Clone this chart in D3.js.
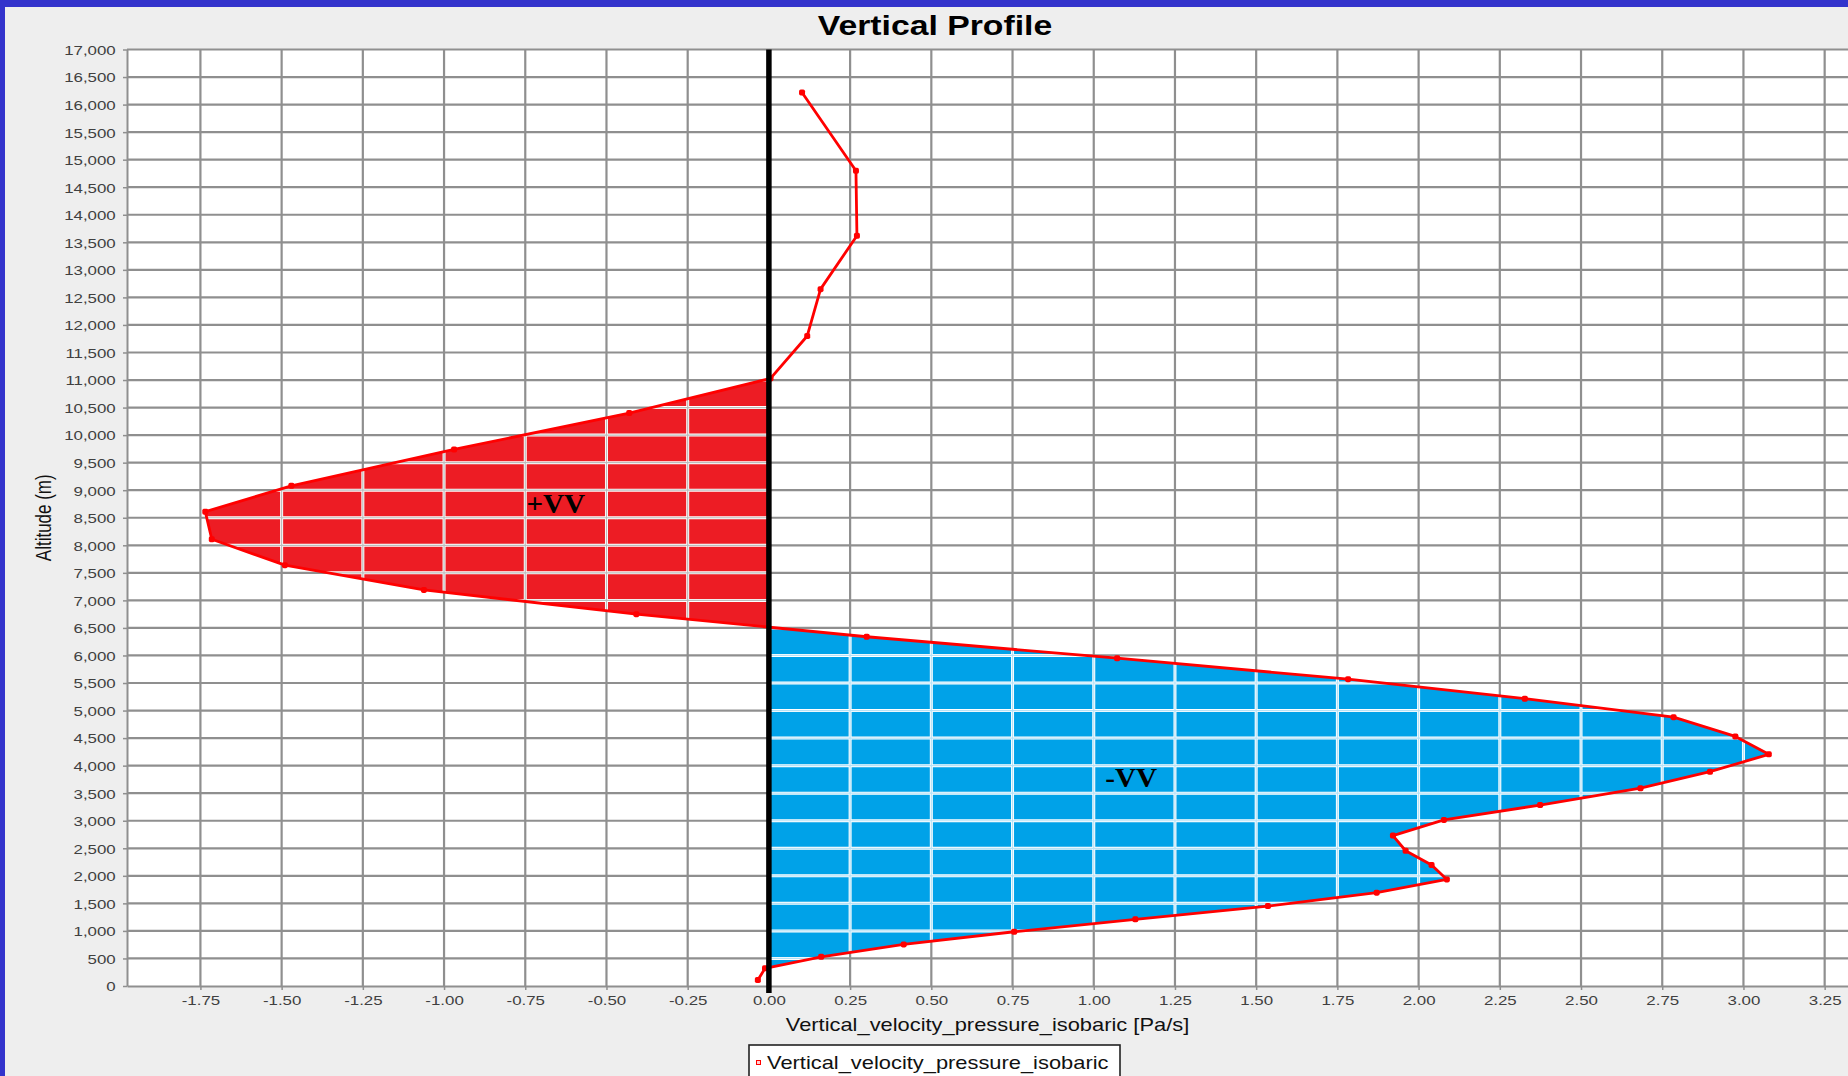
<!DOCTYPE html>
<html>
<head>
<meta charset="utf-8">
<script src="https://cdn.jsdelivr.net/npm/d3@7"></script>
<style>
  html, body { margin: 0; padding: 0; background: #eeeeee; overflow: hidden; }
  svg { display: block; font-family: "Liberation Sans", Arial, sans-serif; }
</style>
</head>
<body>
<svg id="chart" width="1848" height="1076"></svg>
<script>
// vertical profile: omega (Pa/s) against altitude, red/blue areas marked by hand

const title = "Vertical Profile";
const seriesName = "Vertical_velocity_pressure_isobaric";
const xLabel = "Vertical_velocity_pressure_isobaric [Pa/s]";
const yLabel = "Altitude (m)";

// altitude of each level (m) and the value read at it (Pa/s)
const altitude = [110, 320, 530, 755, 985, 1210, 1450, 1695, 1935, 2195, 2455, 2730,
  3015, 3285, 3590, 3890, 4205, 4530, 4880, 5215, 5570, 5950, 6340, 6750, 7190,
  7640, 8110, 8610, 9080, 9740, 10400, 11030, 11800, 12650, 13620, 14800, 16220];
const omega = [-0.034, -0.012, 0.161, 0.415, 0.755, 1.128, 1.536, 1.871, 2.087, 2.04,
  1.96, 1.921, 2.078, 2.374, 2.683, 2.897, 3.078, 2.975, 2.785, 2.327, 1.783, 1.072,
  0.301, -0.408, -1.062, -1.49, -1.715, -1.735, -1.47, -0.969, -0.43, 0.005, 0.118,
  0.159, 0.271, 0.268, 0.102];

const xTicks = [-1.75, -1.5, -1.25, -1, -0.75, -0.5, -0.25, 0, 0.25, 0.5, 0.75, 1,
  1.25, 1.5, 1.75, 2, 2.25, 2.5, 2.75, 3, 3.25];
const yTicks = [0, 500, 1000, 1500, 2000, 2500, 3000, 3500, 4000, 4500, 5000, 5500,
  6000, 6500, 7000, 7500, 8000, 8500, 9000, 9500, 10000, 10500, 11000, 11500, 12000,
  12500, 13000, 13500, 14000, 14500, 15000, 15500, 16000, 16500, 17000];

// painted labels
const areaLabels = ["+VV", "-VV"];
const areaLabelX = [-0.656, 1.115];
const areaLabelAlt = [8750, 3776];

const W = 1848, H = 1076;
const SX = 1.25; // text in the picture is stretched sideways

const svg = d3.select("#chart");

const x = d3.scaleLinear().domain([-1.976, 3.328]).range([127, 1850]);
const y = d3.scaleLinear().domain([0, 17000]).range([986, 49.5]);

// frame
svg.append("rect").attr("width", W).attr("height", H).attr("fill", "#eeeeee");
svg.append("rect").attr("width", W).attr("height", 7).attr("fill", "#3333cc");
svg.append("rect").attr("width", 5).attr("height", H).attr("fill", "#3333cc");

// plot background
svg.append("rect")
  .attr("x", x.range()[0]).attr("y", y.range()[1])
  .attr("width", x.range()[1] - x.range()[0])
  .attr("height", y.range()[0] - y.range()[1])
  .attr("fill", "#ffffff");

function drawGrid(g, color, width) {
  g.selectAll("line.v").data(xTicks).enter().append("line")
    .attr("x1", d => x(d)).attr("x2", d => x(d))
    .attr("y1", y.range()[1]).attr("y2", y.range()[0])
    .attr("stroke", color).attr("stroke-width", width);
  g.selectAll("line.h").data(yTicks.filter(d => d > 0)).enter().append("line")
    .attr("x1", x.range()[0]).attr("x2", x.range()[1])
    .attr("y1", d => y(d)).attr("y2", d => y(d))
    .attr("stroke", color).attr("stroke-width", width);
}

drawGrid(svg.append("g"), "#8f8f8f", 2.2);

// split the profile into same-sign runs, cutting at zero crossings
const pts = altitude.map((a, i) => ({ a, v: omega[i] }));
const runs = [];
let cur = null;
pts.forEach((p, i) => {
  const s = Math.sign(p.v);
  if (!cur) { cur = { sign: s, pts: [p] }; return; }
  if (s === cur.sign) { cur.pts.push(p); return; }
  const q = pts[i - 1];
  const t = q.v / (q.v - p.v);
  const z = { a: q.a + t * (p.a - q.a), v: 0 };
  cur.pts.push(z);
  runs.push(cur);
  cur = { sign: s, pts: [z, p] };
});
runs.push(cur);

// only the big lobes were coloured in
const filled = runs.filter(r => d3.max(r.pts, p => Math.abs(p.v)) > 1);

const area = d3.line().x(p => x(p.v)).y(p => y(p.a));
const defs = svg.append("defs");

filled.forEach((r, i) => {
  const poly = [{ a: r.pts[0].a, v: 0 }, ...r.pts, { a: r.pts[r.pts.length - 1].a, v: 0 }];
  const red = r.sign < 0;
  svg.append("path")
    .attr("d", area(poly) + "Z")
    .attr("fill", red ? "#ed1c24" : "#00a2e8");
  defs.append("clipPath").attr("id", "fill" + i)
    .append("path").attr("d", area(poly) + "Z");
  const g = svg.append("g").attr("clip-path", `url(#fill${i})`);
  drawGrid(g, "#ffffff", 3);
  drawGrid(g, red ? "#bcbcbc" : "#b5e2f7", 1.2);
});

// axes
const yAxis = svg.append("g")
  .attr("transform", `translate(${x.range()[0]},0)`)
  .call(d3.axisLeft(y).tickValues(yTicks).tickFormat(d3.format(","))
    .tickSize(4).tickSizeOuter(0).tickPadding(7.3));

const xAxis = svg.append("g")
  .attr("transform", `translate(0,${y.range()[0]})`)
  .call(d3.axisBottom(x).tickValues(xTicks)
    .tickFormat(d => d3.format(".2f")(d).replace("\u2212", "-"))
    .tickSize(4).tickSizeOuter(0).tickPadding(5.6));

[xAxis, yAxis].forEach(ax => {
  ax.attr("font-family", null).attr("font-size", null);
  ax.select(".domain").attr("stroke", "#8f8f8f").attr("stroke-width", 2);
  ax.selectAll(".tick line").attr("stroke", "#8f8f8f").attr("stroke-width", 1.5);
  ax.selectAll("text")
    .attr("font-size", 13.5).attr("fill", "#404040")
    .each(function () {
      const t = d3.select(this);
      const tx = +t.attr("x") || 0;
      t.attr("x", 0).attr("transform", `translate(${tx},0) scale(${SX},1)`);
    });
});
yAxis.selectAll("text").attr("dy", "0.36em");

// series line and markers
const line = d3.line().x(p => x(p.v)).y(p => y(p.a));
svg.append("path")
  .datum(pts)
  .attr("d", line)
  .attr("fill", "none")
  .attr("stroke", "#ff0000")
  .attr("stroke-width", 2.8)
  .attr("stroke-linejoin", "round");

svg.append("g").selectAll("rect").data(pts).enter().append("rect")
  .attr("x", p => x(p.v) - 3).attr("y", p => y(p.a) - 3)
  .attr("width", 6).attr("height", 6).attr("rx", 1.8)
  .attr("fill", "#ff0000");

// zero line
svg.append("line")
  .attr("x1", x(0)).attr("x2", x(0))
  .attr("y1", y.range()[1]).attr("y2", y.range()[0] + 7)
  .attr("stroke", "#000000").attr("stroke-width", 5.5);

// painted labels
svg.append("g").selectAll("text").data(areaLabels).enter().append("text")
  .attr("transform", (d, i) => `translate(${x(areaLabelX[i])},${y(areaLabelAlt[i])}) scale(1.08,1)`)
  .attr("text-anchor", "middle")
  .attr("dy", "0.33em")
  .style("font-family", "'Liberation Serif', 'Times New Roman', serif")
  .attr("font-weight", "bold")
  .attr("font-size", 27)
  .attr("fill", "#000000")
  .text(d => d);

// title and axis labels
svg.append("text")
  .attr("transform", `translate(935,34.5) scale(${SX},1)`)
  .attr("text-anchor", "middle")
  .attr("font-weight", "bold").attr("font-size", 27).attr("fill", "#000")
  .text(title);

svg.append("text")
  .attr("transform", `translate(${(x.range()[0] + 1848) / 2},1031) scale(${SX},1)`)
  .attr("text-anchor", "middle")
  .attr("font-size", 17.5).attr("fill", "#111")
  .text(xLabel);

svg.append("text")
  .attr("transform", `translate(43,${(y.range()[0] + y.range()[1]) / 2}) scale(${SX},1) rotate(-90)`)
  .attr("text-anchor", "middle")
  .attr("dy", "0.36em")
  .attr("font-size", 17).attr("fill", "#111")
  .text(yLabel);

// legend
const leg = svg.append("g").attr("transform", "translate(749,1045)");
leg.append("rect")
  .attr("width", 371).attr("height", 44)
  .attr("fill", "#ffffff").attr("stroke", "#222").attr("stroke-width", 1.6);
leg.append("rect")
  .attr("x", 7.5).attr("y", 15.5).attr("width", 4).attr("height", 4)
  .attr("fill", "#ffd0d0").attr("stroke", "#ff0000").attr("stroke-width", 1);
leg.append("text")
  .attr("transform", `translate(18,24) scale(${SX},1)`)
  .attr("font-size", 17.5).attr("fill", "#111")
  .text(seriesName);
</script>
</body>
</html>
